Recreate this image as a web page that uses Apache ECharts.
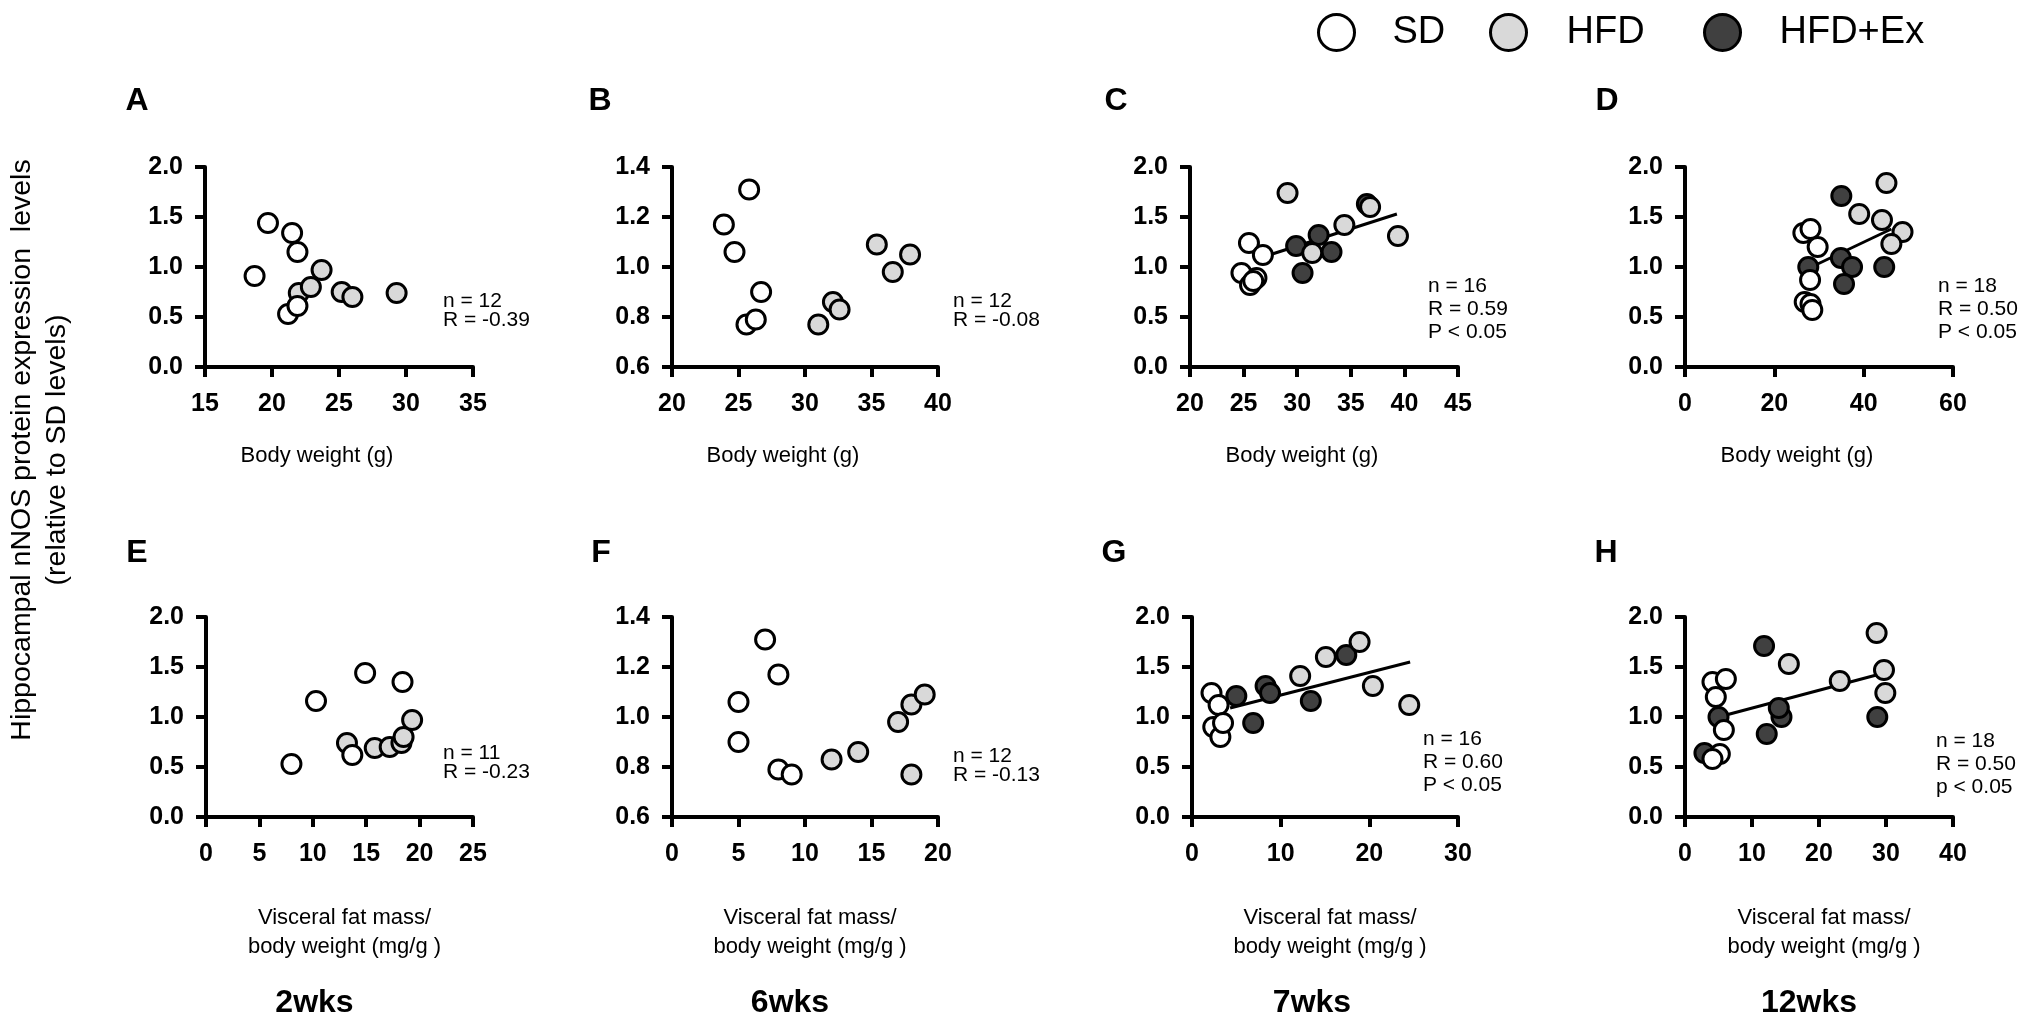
<!DOCTYPE html>
<html><head><meta charset="utf-8">
<script src="https://cdn.jsdelivr.net/npm/echarts@6/dist/echarts.min.js"></script>
<style>html,body{margin:0;padding:0;background:#fff}#c{width:2031px;height:1028px}</style>
</head><body><div id="c"></div>
<script>
// ---------- DATA ----------
// Panel A: 2wks, body weight
const aSD  = [[19.7,1.44],[21.5,1.34],[21.9,1.15],[18.7,0.91],[21.2,0.53],[21.9,0.61]];
const aHFD = [[22.0,0.74],[22.9,0.80],[23.7,0.97],[25.2,0.75],[26.0,0.70],[29.3,0.74]];
const aEx  = [];
// Panel B: 6wks, body weight
const bSD  = [[25.8,1.31],[23.9,1.17],[24.7,1.06],[26.7,0.90],[25.6,0.77],[26.3,0.79]];
const bHFD = [[31.0,0.77],[32.1,0.86],[32.6,0.83],[35.4,1.09],[36.6,0.98],[37.9,1.05]];
const bEx  = [];
// Panel C: 7wks, body weight
const cSD  = [[25.5,1.24],[26.8,1.12],[24.8,0.94],[26.2,0.89],[25.6,0.82],[25.9,0.86]];
const cHFD = [[29.1,1.74],[31.4,1.14],[34.4,1.42],[36.8,1.60],[39.4,1.31]];
const cEx  = [[29.9,1.21],[32.0,1.32],[33.2,1.15],[30.5,0.94],[36.5,1.63]];
const cFit = [[26.8,1.10],[39.3,1.53]];
// Panel D: 12wks, body weight
const dSD  = [[26.5,1.34],[28.1,1.38],[29.7,1.20],[28.0,0.87],[26.8,0.65],[28.1,0.63],[28.5,0.57]];
const dHFD = [[45.1,1.84],[39.0,1.53],[44.1,1.47],[48.7,1.35],[46.2,1.23]];
const dEx  = [[27.6,1.00],[35.0,1.71],[34.9,1.09],[37.4,1.00],[35.6,0.83],[44.6,1.00]];
const dFit = [[29.7,1.03],[46.2,1.38]];
// Panel E: 2wks, visceral fat
const eSD  = [[8.0,0.53],[10.3,1.16],[14.9,1.44],[18.4,1.35],[13.7,0.62]];
const eHFD = [[13.2,0.74],[15.8,0.69],[17.2,0.70],[18.3,0.74],[18.5,0.80],[19.3,0.97]];
const eEx  = [];
// Panel F: 6wks, visceral fat
const fSD  = [[7.0,1.31],[8.0,1.17],[5.0,1.06],[5.0,0.90],[8.0,0.79],[9.0,0.77]];
const fHFD = [[12.0,0.83],[14.0,0.86],[17.0,0.98],[18.0,1.05],[19.0,1.09],[18.0,0.77]];
const fEx  = [];
// Panel G: 7wks, visceral fat
const gSD  = [[2.2,1.24],[3.0,1.12],[2.4,0.90],[3.2,0.80],[3.5,0.94]];
const gHFD = [[12.2,1.41],[15.1,1.60],[18.9,1.75],[20.4,1.31],[24.5,1.12]];
const gEx  = [[5.0,1.21],[6.9,0.94],[8.3,1.31],[8.8,1.24],[13.4,1.16],[17.4,1.62]];
const gFit = [[4.3,1.09],[24.6,1.55]];
// Panel H: 12wks, visceral fat
const hSD  = [[4.1,1.35],[6.1,1.38],[4.6,1.20],[5.8,0.87],[5.2,0.63],[4.1,0.58]];
const hHFD = [[15.5,1.53],[23.1,1.36],[28.6,1.84],[29.7,1.47],[29.9,1.24]];
const hEx  = [[2.9,0.64],[5.0,1.00],[11.8,1.71],[12.2,0.83],[14.4,1.00],[14.0,1.09],[28.7,1.00]];
const hFit = [[5.0,1.00],[29.7,1.44]];

// axis ranges [min, max, interval]
const xRanges = [[15,35,5],[20,40,5],[20,45,5],[0,60,20],[0,25,5],[0,20,5],[0,30,10],[0,40,10]];
const yRanges = [[0,2,0.5],[0.6,1.4,0.2],[0,2,0.5],[0,2,0.5],[0,2,0.5],[0.6,1.4,0.2],[0,2,0.5],[0,2,0.5]];
const letters = ['A','B','C','D','E','F','G','H'];
const notes = [
  'n = 12\nR = -0.39','n = 12\nR = -0.08','n = 16\nR = 0.59\nP < 0.05','n = 18\nR = 0.50\nP < 0.05',
  'n = 11\nR = -0.23','n = 12\nR = -0.13','n = 16\nR = 0.60\nP < 0.05','n = 18\nR = 0.50\np < 0.05'];
const weeks = ['2wks','6wks','7wks','12wks'];
const groupNames = ['SD','HFD','HFD+Ex'];
const xTitleTop = 'Body weight (g)';
const xTitleBottom = 'Visceral fat mass/\nbody weight (mg/g )';
const yTitle = 'Hippocampal nNOS protein expression  levels\n(relative to SD levels)';

const sdSets  = [aSD,bSD,cSD,dSD,eSD,fSD,gSD,hSD];
const hfdSets = [aHFD,bHFD,cHFD,dHFD,eHFD,fHFD,gHFD,hHFD];
const exSets  = [aEx,bEx,cEx,dEx,eEx,fEx,gEx,hEx];
const fitSets = [null,null,cFit,dFit,null,null,gFit,hFit];

// ---------- LAYOUT ----------
const FONT = 'Liberation Sans, Arial, Helvetica, sans-serif';
const gridPos = [
  [205,167,268],[672,167,266],[1190,167,268],[1685,167,268],
  [206,617,267],[672,617,266],[1192,617,266],[1685,617,268]];
const PH = 200;
const letterPos = [[137,101],[600,101],[1116,101],[1607,101],[137,553],[601,553],[1114,553],[1606,553]];
const notePos = [[443,292],[953,292],[1428,275],[1938,275],[443,744],[953,747],[1423,728],[1936,730]];
const noteLH = [19,19,23,23,19,19,23,23];
const weekShift = [-25,-15,-13,-10];

const grids=[], xAxes=[], yAxes=[], series=[], graphics=[];
const AX = {color:'#000', width:4};
for (let i=0;i<8;i++){
  const [l,t,w] = gridPos[i];
  grids.push({left:l, top:t, width:w, height:PH, containLabel:false});
  const xr = xRanges[i], yr = yRanges[i];
  xAxes.push({type:'value', gridIndex:i, min:xr[0], max:xr[1], interval:xr[2],
    axisLine:{show:true, onZero:false, lineStyle:AX},
    axisTick:{show:true, length:10, lineStyle:AX},
    splitLine:{show:false},
    axisLabel:{fontSize:25, fontWeight:'bold', color:'#000', fontFamily:FONT, margin:25}});
  yAxes.push({type:'value', gridIndex:i, min:yr[0], max:yr[1], interval:yr[2],
    axisLine:{show:true, onZero:false, lineStyle:AX},
    axisTick:{show:true, length:10, lineStyle:AX},
    splitLine:{show:false},
    axisLabel:{fontSize:25, fontWeight:'bold', color:'#000', fontFamily:FONT, margin:22,
      formatter: v => v.toFixed(1)}});
  if (fitSets[i]) series.push({type:'line', xAxisIndex:i, yAxisIndex:i, data:fitSets[i],
    symbol:'none', silent:true, z:2, lineStyle:{color:'#000', width:3}});
  series.push({type:'scatter', name:groupNames[2], xAxisIndex:i, yAxisIndex:i, data:exSets[i],
    symbolSize:19, z:3, itemStyle:{color:'#404040', borderColor:'#000', borderWidth:3, opacity:1}});
  series.push({type:'scatter', name:groupNames[1], xAxisIndex:i, yAxisIndex:i, data:hfdSets[i],
    symbolSize:19, z:3, itemStyle:{color:'#d9d9d9', borderColor:'#000', borderWidth:3, opacity:1}});
  series.push({type:'scatter', name:groupNames[0], xAxisIndex:i, yAxisIndex:i, data:sdSets[i],
    symbolSize:19, z:3, itemStyle:{color:'#ffffff', borderColor:'#000', borderWidth:3, opacity:1}});
  graphics.push({type:'text', x:letterPos[i][0], y:letterPos[i][1],
    style:{text:letters[i], font:'bold 32px '+FONT, fill:'#000', align:'center', verticalAlign:'middle'}});
  graphics.push({type:'text', x:notePos[i][0], y:notePos[i][1],
    style:{text:notes[i], font:'21px '+FONT, lineHeight:noteLH[i], fill:'#000', align:'left', verticalAlign:'top'}});
  const cx = l + w/2;
  if (i<4) {
    graphics.push({type:'text', x:cx-22, y:456,
      style:{text:xTitleTop, font:'22px '+FONT, fill:'#000', align:'center', verticalAlign:'middle'}});
  } else {
    graphics.push({type:'text', x:cx+5, y:932,
      style:{text:xTitleBottom, font:'22px '+FONT, lineHeight:29, fill:'#000', align:'center', verticalAlign:'middle'}});
    graphics.push({type:'text', x:cx+weekShift[i-4], y:1003,
      style:{text:weeks[i-4], font:'bold 32px '+FONT, fill:'#000', align:'center', verticalAlign:'middle'}});
  }
}
graphics.push({type:'text', x:40, y:450, rotation:Math.PI/2,
  style:{text:yTitle, font:'28.5px '+FONT, lineHeight:35, fill:'#000', align:'center', verticalAlign:'middle'}});

const legendBase = {top:8, itemHeight:36, icon:'circle', selectedMode:false,
  itemStyle:{borderColor:'#000', borderWidth:3},
  textStyle:{fontSize:38, color:'#000', fontFamily:FONT}};
const legends = [
  Object.assign({}, legendBase, {data:['SD'], left:1312, itemWidth:102}),
  Object.assign({}, legendBase, {data:['HFD'], left:1484, itemWidth:106}),
  Object.assign({}, legendBase, {data:['HFD+Ex'], left:1698, itemWidth:104})];

const chart = echarts.init(document.getElementById('c'), null, {renderer:'canvas'});
chart.setOption({animation:false, backgroundColor:'#fff', grid:grids, xAxis:xAxes, yAxis:yAxes,
  series:series, legend:legends, graphic:graphics});
</script></body></html>
